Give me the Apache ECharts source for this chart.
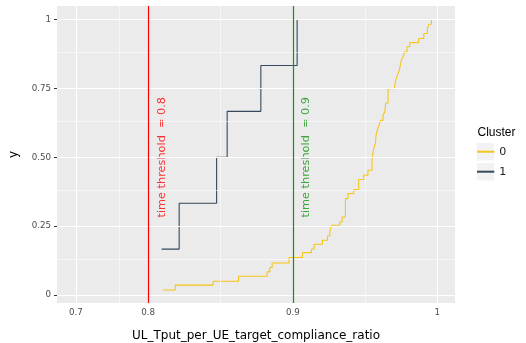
<!DOCTYPE html>
<html><head><meta charset="utf-8">
<script src="https://cdn.jsdelivr.net/npm/echarts@6/dist/echarts.min.js"></script>
<style>html,body{margin:0;padding:0;background:#fff}#c{width:526px;height:343px}</style>
</head><body><div id="c"></div>
<script>
// ---- data ----
const cluster0X = [0.8104,0.8187,0.8449,0.8625,0.8822,0.8841,0.8857,0.8974,0.9067,0.9129,0.9147,0.9205,0.9240,0.9256,0.9267,0.9325,0.9341,0.9364,0.9382,0.9422,0.9456,0.9491,0.9520,0.9548,0.9560,0.9572,0.9576,0.9585,0.9596,0.9608,0.9624,0.9636,0.9643,0.9659,0.9705,0.9712,0.9724,0.9735,0.9744,0.9751,0.9762,0.9774,0.9790,0.9809,0.9871,0.9906,0.9931,0.9942,0.9959];
const cluster0Y = [0.018,0.036,0.050,0.068,0.084,0.100,0.116,0.136,0.154,0.166,0.184,0.199,0.214,0.231,0.253,0.265,0.283,0.350,0.368,0.383,0.419,0.435,0.453,0.497,0.532,0.552,0.580,0.598,0.616,0.634,0.653,0.664,0.697,0.749,0.761,0.780,0.798,0.813,0.834,0.852,0.864,0.882,0.901,0.916,0.931,0.949,0.967,0.983,1.0];
const cluster1X = [0.8093,0.8214,0.8473,0.8546,0.8779,0.9030];
const cluster1Y = [0.1667,0.3333,0.5,0.6667,0.8333,1.0];
const clusterNames = ['0','1'];
const clusterColors = ['#F5C518','#34495E'];

const xTickValues = [0.75,0.8,0.9,1.0];
const xTickLabels = ['0.7','0.8','0.9','1'];
const xMinorValues = [0.775,0.85,0.95];
const yTickValues = [0,0.25,0.5,0.75,1];
const yTickLabels = ['0','0.25','0.50','0.75','1'];
const yMinorValues = [0.125,0.375,0.625,0.875];

const thresholds = [0.8,0.9];
const thresholdLabels = ['time threshold  = 0.8','time threshold  = 0.9'];
const thresholdColors = ['#FF0000','#109410'];
const labelOffsetX = 0.0095, labelY = 0.5;

const xTitle = 'UL_Tput_per_UE_target_compliance_ratio';
const yTitle = 'y';
const legendTitle = 'Cluster';

// ---- chart ----
const FONT = 'DejaVu Sans';
function lookup(vals, labs, v){let b=0;for(let i=1;i<vals.length;i++){if(Math.abs(vals[i]-v)<Math.abs(vals[b]-v))b=i;}return labs[b];}

const chart = echarts.init(document.getElementById('c'), null, {renderer:'canvas'});
const gridLines = [];
xTickValues.forEach(v=>gridLines.push({xAxis:v, lineStyle:{width:1.1}}));
xMinorValues.forEach(v=>gridLines.push({xAxis:v, lineStyle:{width:0.55}}));
yTickValues.forEach(v=>gridLines.push({yAxis:v, lineStyle:{width:1.1}}));
yMinorValues.forEach(v=>gridLines.push({yAxis:v, lineStyle:{width:0.55}}));

const series = [{
  type:'line', name:'_grid', data:[], z:1, silent:true,
  markLine:{silent:true, symbol:'none', animation:false, label:{show:false},
    lineStyle:{color:'#FFFFFF', type:'solid'}, data:gridLines}
}];
const clusterData = [[cluster0X,cluster0Y],[cluster1X,cluster1Y]];
clusterData.forEach((d,k)=>{
  series.push({type:'line', name:clusterNames[k], step:'end', showSymbol:false, z:3,
    color:clusterColors[k],
    lineStyle:{width:1.1, color:clusterColors[k]},
    data:d[0].map((x,i)=>[x,d[1][i]])});
});
thresholds.forEach((t,k)=>{
  series.push({type:'scatter', name:'_thr'+k, z:4, symbolSize:0, silent:true,
    data:[[t+labelOffsetX,labelY]],
    label:{show:true, position:'inside', rotate:90, formatter:thresholdLabels[k],
      color:thresholdColors[k], fontSize:11.3, fontFamily:FONT},
    markLine:{silent:true, symbol:'none', animation:false, label:{show:false},
      lineStyle:{color:thresholdColors[k], width:1.2, type:'solid'}, data:[{xAxis:t}]}});
});

chart.setOption({
  animation:false,
  textStyle:{fontFamily:FONT},
  grid:{left:57, top:6, width:398, height:297, show:true, backgroundColor:'#EBEBEB', borderWidth:0,
    containLabel:false, outerBoundsMode:'none'},
  xAxis:{type:'value', min:0.7369, max:1.0122,
    name:xTitle, nameLocation:'middle', nameGap:27,
    nameTextStyle:{fontSize:12, color:'#000', fontFamily:FONT},
    axisLine:{show:false},
    axisTick:{show:true, length:3, customValues:xTickValues, lineStyle:{color:'#333333', width:1}},
    axisLabel:{customValues:xTickValues, margin:5, fontSize:8.7, color:'#4D4D4D', fontFamily:FONT,
      formatter:v=>lookup(xTickValues,xTickLabels,v)},
    splitLine:{show:false}},
  yAxis:{type:'value', min:-0.029, max:1.049,
    name:yTitle, nameLocation:'middle', nameGap:37,
    nameTextStyle:{fontSize:12, color:'#000', fontFamily:FONT},
    axisLine:{show:false},
    axisTick:{show:true, length:3, customValues:yTickValues, lineStyle:{color:'#333333', width:1}},
    axisLabel:{customValues:yTickValues, margin:6, fontSize:8.7, color:'#4D4D4D', fontFamily:FONT,
      formatter:v=>lookup(yTickValues,yTickLabels,v)},
    splitLine:{show:false}},
  legend:{data:clusterNames, orient:'vertical', left:477, top:141.7, padding:0, itemGap:0,
    itemWidth:17.3, itemHeight:2, icon:'rect',
    textStyle:{fontSize:11, lineHeight:20, color:'#1A1A1A', fontFamily:FONT}},
  graphic:[
    {type:'text', left:477.5, top:127, z:5, style:{text:legendTitle, fontSize:12, fill:'#000', font:'12px "DejaVu Sans"'}},
    {type:'rect', shape:{x:476.8, y:143.1, width:17.3, height:17.3}, z:0, style:{fill:'#F2F2F2'}},
    {type:'rect', shape:{x:476.8, y:163.1, width:17.3, height:17.3}, z:0, style:{fill:'#F2F2F2'}}
  ],
  series:series
});
</script></body></html>
